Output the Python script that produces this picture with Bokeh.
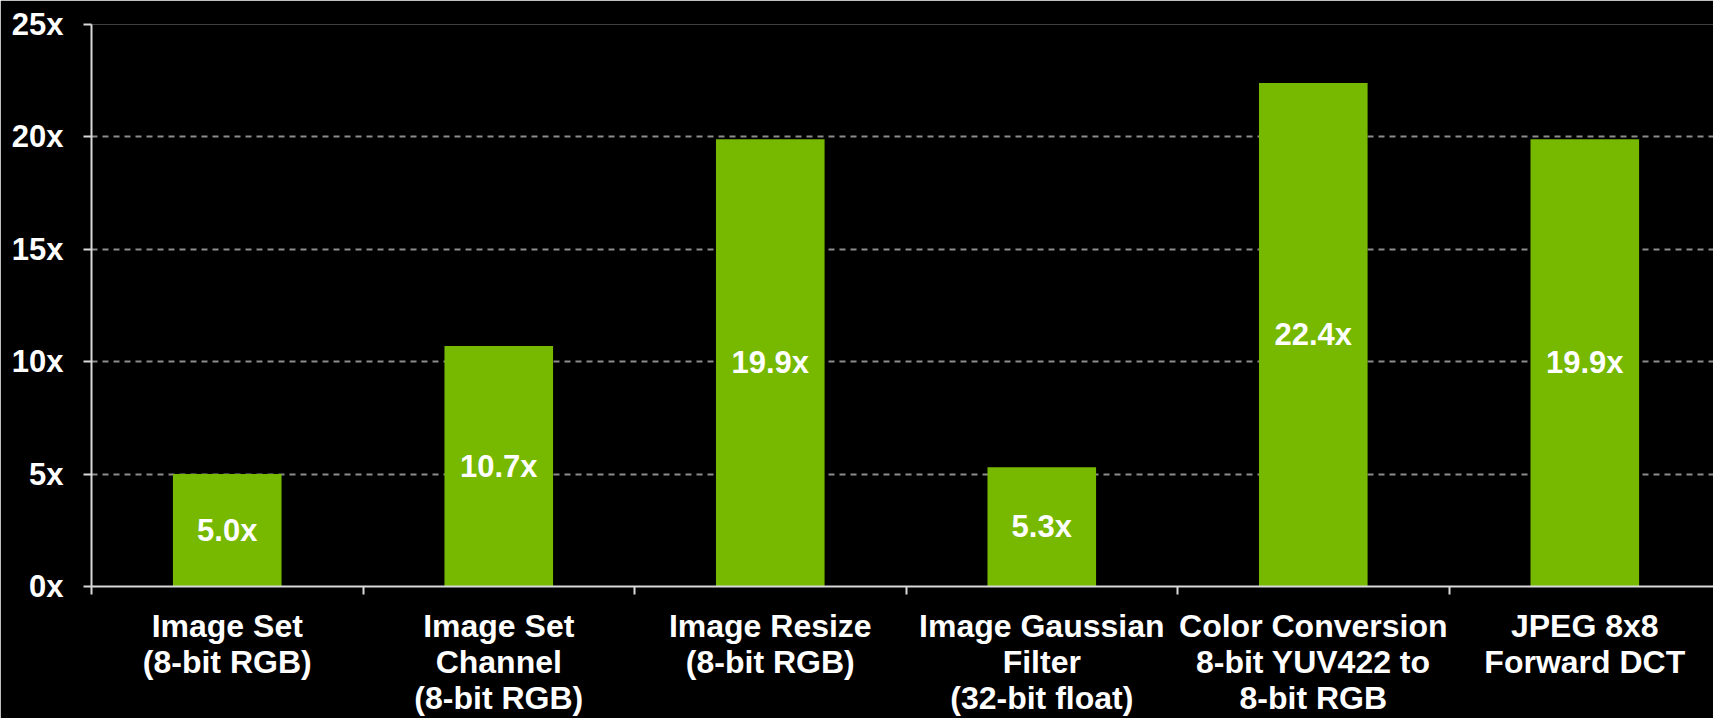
from bokeh.plotting import figure
from bokeh.models import ColumnDataSource, FixedTicker, Range1d
from bokeh.core.properties import value
from bokeh.embed import file_html
from bokeh.resources import INLINE

# Speedup per image-processing primitive
categories = [
    "Image Set\n(8-bit RGB)",
    "Image Set\nChannel\n(8-bit RGB)",
    "Image Resize\n(8-bit RGB)",
    "Image Gaussian\nFilter\n(32-bit float)",
    "Color Conversion\n8-bit YUV422 to\n8-bit RGB",
    "JPEG 8x8\nForward DCT",
]
speedups = [5.0, 10.7, 19.9, 5.3, 22.4, 19.9]
y_ticks = [0, 5, 10, 15, 20, 25]

GREEN = "#76b900"
FONT = "Liberation Sans"

n = len(categories)
centers = [i + 0.5 for i in range(n)]

src = ColumnDataSource(dict(
    x=centers,
    top=speedups,
    mid=[v / 2 for v in speedups],
    label=[f"{v:.1f}x" for v in speedups],
))

p = figure(
    width=1713, height=718,
    output_backend="svg", toolbar_location=None,
    x_range=Range1d(0, 5.974), y_range=Range1d(0, 25),
    min_border_left=91, min_border_right=0,
    min_border_top=24, min_border_bottom=128,
    background_fill_color="black", border_fill_color="black",
    outline_line_color=None,
)

p.vbar(x="x", top="top", bottom=0, width=0.4, source=src,
       fill_color=GREEN, line_color=None)

p.text(x="x", y="mid", text="label", source=src,
       text_color="white", text_font=value(FONT), text_font_style="bold",
       text_font_size="31px", text_align="center", text_baseline="middle")

# category axis: labels at bar centres, tick marks on category boundaries
xa = p.xaxis[0]
xa.ticker = FixedTicker(ticks=centers, minor_ticks=list(range(n + 1)))
xa.major_label_overrides = {c: lab for c, lab in zip(centers, categories)}
xa.major_tick_out = 0
xa.major_tick_in = 0
xa.minor_tick_out = 8
xa.minor_tick_in = 0
xa.minor_tick_line_color = "#d9d9d9"
xa.minor_tick_line_width = 2
xa.axis_line_color = "#d9d9d9"
xa.axis_line_width = 2
xa.major_label_text_color = "white"
xa.major_label_text_font = FONT
xa.major_label_text_font_style = "bold"
xa.major_label_text_font_size = "32px"
xa.major_label_text_line_height = 1.0
xa.major_label_standoff = 13

ya = p.yaxis[0]
ya.ticker = FixedTicker(ticks=y_ticks)
ya.major_label_overrides = {t: f"{t}x" for t in y_ticks}
ya.major_tick_out = 8
ya.major_tick_in = 0
ya.minor_tick_out = 0
ya.minor_tick_in = 0
ya.major_tick_line_color = "#d9d9d9"
ya.major_tick_line_width = 2
ya.axis_line_color = "#d9d9d9"
ya.axis_line_width = 2
ya.major_label_text_color = "white"
ya.major_label_text_font = FONT
ya.major_label_text_font_style = "bold"
ya.major_label_text_font_size = "31px"
ya.major_label_standoff = 20

p.xgrid.grid_line_color = None
p.ygrid.ticker = FixedTicker(ticks=y_ticks[1:])
p.ygrid.grid_line_color = "#8c8c8c"
p.ygrid.grid_line_width = 2
p.ygrid.grid_line_dash = "6 5"

open("out.html", "w").write(file_html(p, INLINE))
